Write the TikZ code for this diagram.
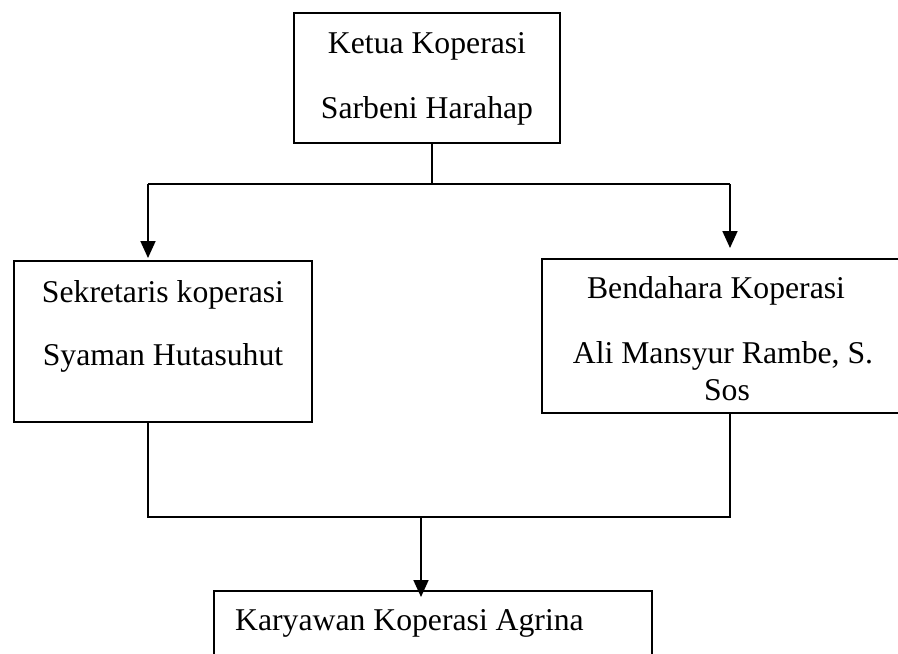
\documentclass[tikz,border=0pt]{standalone}
\usepackage{fontspec}
\setmainfont{Liberation Serif}
\usetikzlibrary{arrows.meta}
\begin{document}
\begin{tikzpicture}[x=1pt,y=-1pt,
  box/.style={draw,line width=1.8pt,inner sep=0pt,outer sep=0pt,anchor=north west},
  lbl/.style={font=\fontsize{31.7}{36.5}\selectfont,inner sep=0pt,anchor=base},
  conn/.style={line width=1.8pt},
  arr/.style={conn,-{Triangle[length=17pt,width=15pt]}}]
\useasboundingbox (0,0) rectangle (898,654);
% boxes
\node[box,minimum width=266pt,minimum height=130pt] (ketua) at (294,13) {};
\node[box,minimum width=298pt,minimum height=161pt] (sek) at (14,261) {};
\node[box,minimum width=363pt,minimum height=154pt] (ben) at (542,259) {};
\node[box,minimum width=438pt,minimum height=100pt] (kar) at (214,591) {};
% texts
\node[lbl] (t1) at (427,53) {Ketua Koperasi};
\node[lbl] (t2) at (427,118) {Sarbeni Harahap};
\node[lbl] (t3) at (163,302) {Sekretaris koperasi};
\node[lbl] (t4) at (163,365) {Syaman Hutasuhut};
\node[lbl] (t5) at (716,298) {Bendahara Koperasi};
\node[lbl] (t6) at (723,363) {Ali Mansyur Rambe, S.};
\node[lbl] (t7) at (727,400) {Sos};
\node[lbl,anchor=base west] (t8) at (235,630) {Karyawan Koperasi Agrina};
% junctions
\coordinate (jt) at (432,184);
\coordinate (jl) at (148,184);
\coordinate (jr) at (730,184);
\coordinate (bl) at (148,517);
\coordinate (br) at (730,517);
\coordinate (bm) at (421,517);
% connectors
\draw[conn] (ketua.south -| jt) -- (jt);
\draw[conn] (jl) -- (jr);
\draw[arr,shorten >=3pt] (jl) -- (jl |- sek.north);
\draw[arr,shorten >=11pt] (jr) -- (jr |- ben.north);
\draw[conn] (sek.south -| bl) -- (bl) -- (br) -- (ben.south -| br);
\draw[arr,shorten >=-6pt] (bm) -- (bm |- kar.north);
\end{tikzpicture}
\end{document}
